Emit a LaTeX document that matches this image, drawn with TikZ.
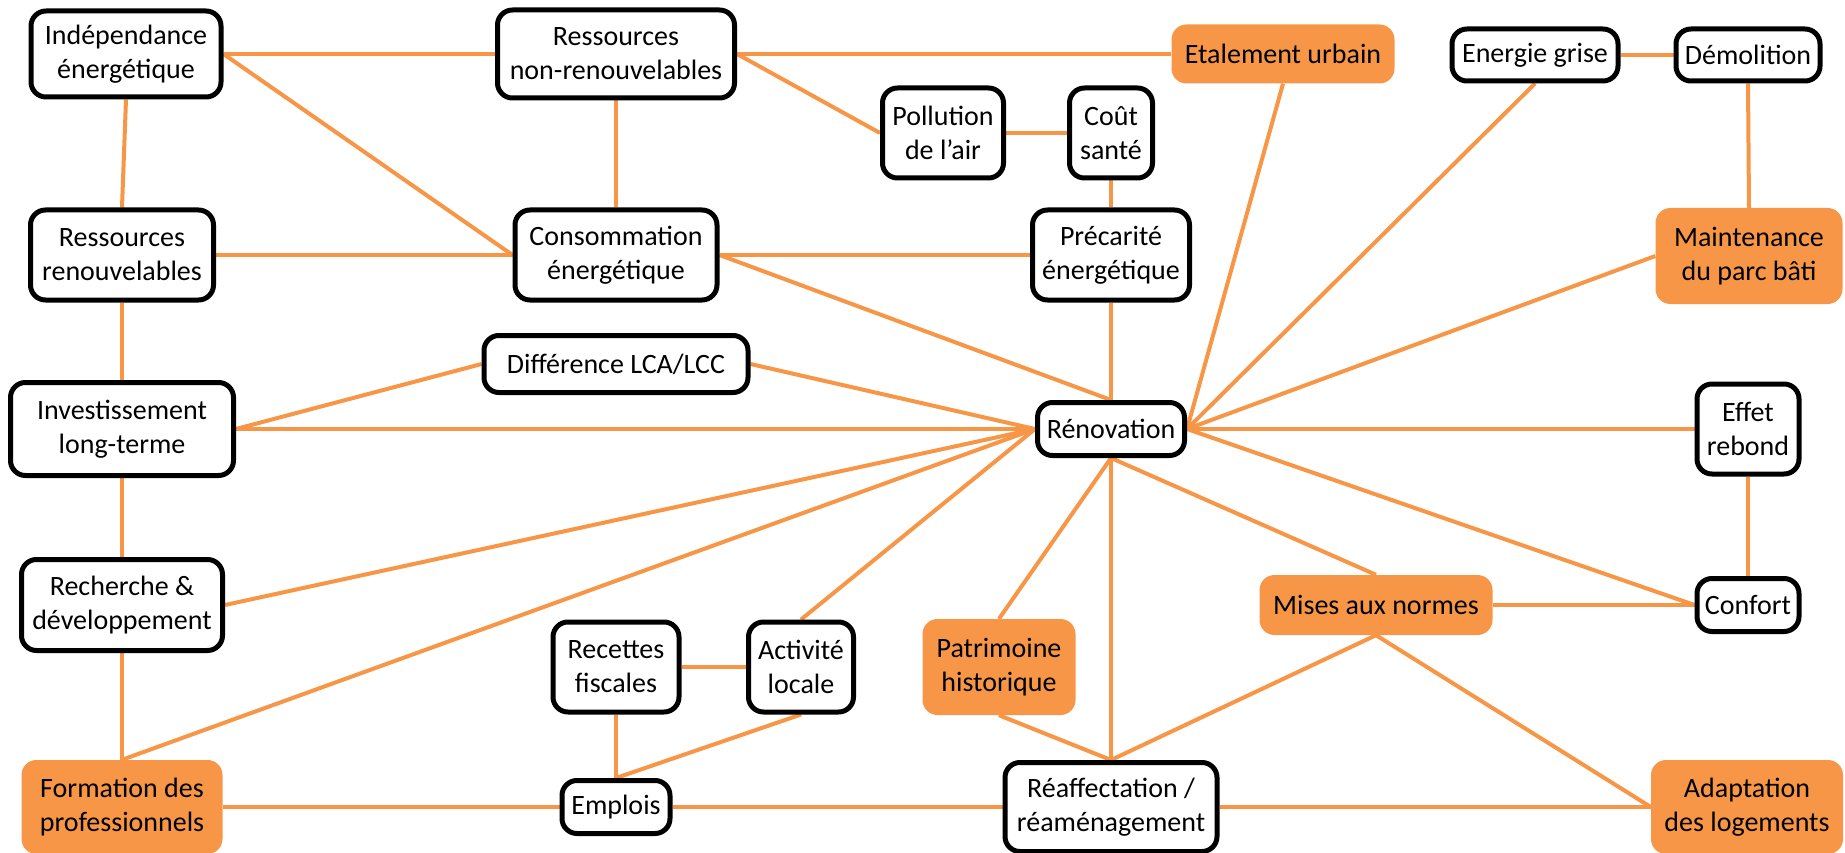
\documentclass[tikz,border=0pt]{standalone}
\usepackage{fontspec}
\setmainfont{Carlito}
\usetikzlibrary{backgrounds}
\definecolor{linkorange}{RGB}{247,150,70}
\tikzset{
  base/.style={rounded corners=15pt, align=center, inner sep=0pt,
    font=\fontsize{28}{34}\selectfont},
  wbox/.style={base, draw=black, line width=5pt, fill=white},
  obox/.style={base, fill=linkorange},
  link/.style={draw=linkorange, line width=4pt}
}
\newcommand{\bx}[7]{\node[#1, minimum width=#5pt, minimum height=#6pt] (#2) at (#3,#4) {#7};}
\begin{document}
\begin{tikzpicture}[x=1pt,y=-1pt]
\useasboundingbox (0,0) rectangle (1845,853);
% boxes: style, name, centre x, centre y, width, height, text
\bx{wbox}{ind}{126}{54}{190}{86}{Indépendance\\énergétique}
\bx{wbox}{rnr}{616}{54}{237}{88}{Ressources\\non-renouvelables}
\bx{obox}{eu}{1283}{54}{223}{59}{Etalement urbain}
\bx{wbox}{eg}{1535}{55}{166}{52}{Energie grise}
\bx{wbox}{dem}{1748}{55}{144}{52}{Démolition}
\bx{wbox}{poll}{943}{133}{121}{90}{Pollution\\de l’air}
\bx{wbox}{cout}{1111}{133}{83}{90}{Coût\\santé}
\bx{wbox}{prec}{1111}{255}{157}{90}{Précarité\\énergétique}
\bx{obox}{maint}{1749}{256}{187}{96}{Maintenance\\du parc bâti}
\bx{wbox}{rr}{122}{255}{183}{90}{Ressources\\renouvelables}
\bx{wbox}{cons}{616}{255}{202}{90}{Consommation\\énergétique}
\bx{wbox}{diff}{616}{364}{264}{57}{Différence LCA/LCC}
\bx{wbox}{inv}{122}{429}{223}{93}{Investissement\\long-terme}
\bx{wbox}{ren}{1111}{429}{147}{53}{Rénovation}
\bx{wbox}{eff}{1748}{429}{102}{90}{Effet\\rebond}
\bx{wbox}{rech}{122}{605}{201}{91}{Recherche \&\\développement}
\bx{wbox}{rec}{616}{667}{126}{90}{Recettes\\fiscales}
\bx{wbox}{act}{801}{667}{105}{90}{Activité\\locale}
\bx{obox}{pat}{999}{667}{153}{96}{Patrimoine\\historique}
\bx{obox}{man}{1376}{605}{233}{60}{Mises aux normes}
\bx{wbox}{conf}{1748}{605}{102}{53}{Confort}
\bx{obox}{form}{122}{807}{201}{94}{Formation des\\professionnels}
\bx{wbox}{emp}{616}{807}{108}{53}{Emplois}
\bx{wbox}{reaf}{1111}{807}{212}{89}{Réaffectation /\\réaménagement}
\bx{obox}{adapt}{1747}{807}{192}{94}{Adaptation\\des logements}
% connectors behind the boxes
\begin{pgfonlayer}{background}
\draw[link] (ind.east) -- (rnr.west);
\draw[link] (ind.east) -- (cons.west);
\draw[link] (ind.south) -- (rr.north);
\draw[link] (rnr.east) -- (eu.west);
\draw[link] (rnr.east) -- (poll.west);
\draw[link] (rnr.south) -- (cons.north);
\draw[link] (poll.east) -- (cout.west);
\draw[link] (cout.south) -- (prec.north);
\draw[link] (rr.east) -- (cons.west);
\draw[link] (rr.south) -- (inv.north);
\draw[link] (cons.east) -- (prec.west);
\draw[link] (cons.east) -- (ren.north);
\draw[link] (prec.south) -- (ren.north);
\draw[link] (eu.south) -- (ren.east);
\draw[link] (eg.south) -- (ren.east);
\draw[link] (maint.west) -- (ren.east);
\draw[link] (eg.east) -- (dem.west);
\draw[link] (dem.south) -- (maint.north);
\draw[link] (diff.east) -- (ren.west);
\draw[link] (inv.east) -- (diff.west);
\draw[link] (inv.east) -- (ren.west);
\draw[link] (inv.south) -- (rech.north);
\draw[link] (rech.east) -- (ren.west);
\draw[link] (rech.south) -- (form.north);
\draw[link] (form.north) -- (ren.west);
\draw[link] (act.north) -- (ren.west);
\draw[link] (rec.east) -- (act.west);
\draw[link] (rec.south) -- (emp.north);
\draw[link] (emp.north) -- (act.south);
\draw[link] (form.east) -- (emp.west);
\draw[link] (emp.east) -- (reaf.west);
\draw[link] (reaf.east) -- (adapt.west);
\draw[link] (pat.north) -- (ren.south);
\draw[link] (pat.south) -- (reaf.north);
\draw[link] (ren.south) -- (reaf.north);
\draw[link] (ren.south) -- (man.north);
\draw[link] (ren.east) -- (eff.west);
\draw[link] (ren.east) -- (conf.west);
\draw[link] (eff.south) -- (conf.north);
\draw[link] (man.east) -- (conf.west);
\draw[link] (man.south) -- (reaf.north);
\draw[link] (man.south) -- (adapt.west);
\end{pgfonlayer}
\end{tikzpicture}
\end{document}
